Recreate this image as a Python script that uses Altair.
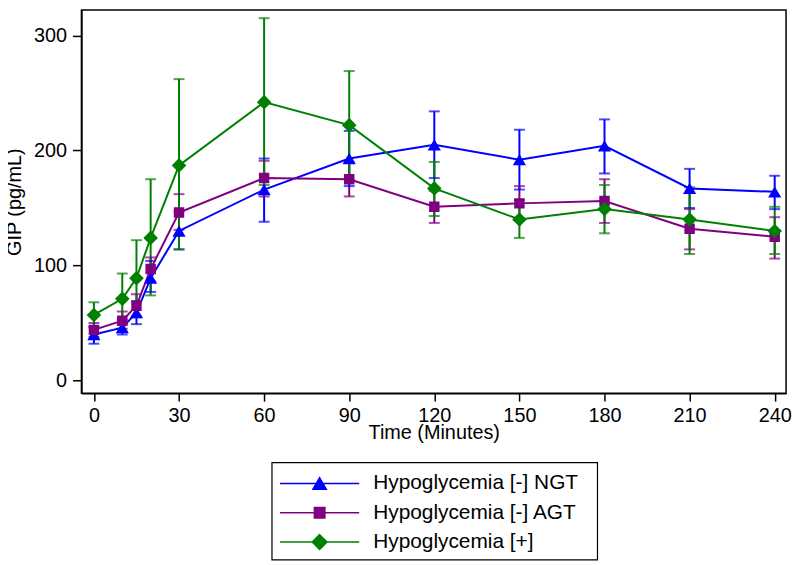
import altair as alt
import pandas as pd

series_names = ["Hypoglycemia [-] NGT", "Hypoglycemia [-] AGT", "Hypoglycemia [+]"]
series_colors = ["#0000ff", "#800080", "#008000"]
# marker glyph + a horizontal stroke (the stroke is only drawn in the legend)
marker_paths = [
    "M-5.7,0L5.7,0M0,-0.82L0.95,0.82L-0.95,0.82Z",
    "M-5.7,0L5.7,0M-0.75,-0.75L0.75,-0.75L0.75,0.75L-0.75,0.75Z",
    "M-5.7,0L5.7,0M0,-1.05L1.05,0L0,1.05L-1.05,0Z",
]

times = [0, 10, 15, 20, 30, 60, 90, 120, 150, 180, 210, 240]

ngt_mean = [40, 46, 59, 89, 130, 166, 193, 205, 192, 204, 167, 164]
ngt_lo = [32, 40, 49, 77, 114, 138, 169, 176, 166, 180, 150, 149]
ngt_hi = [47, 53, 69, 104, 147, 193, 217, 234, 218, 227, 184, 178]

agt_mean = [44, 52, 65, 97, 146, 176, 175, 151, 154, 156, 132, 125]
agt_lo = [38, 45, 55, 86, 131, 160, 160, 137, 139, 137, 114, 106]
agt_hi = [50, 60, 75, 107, 162, 191, 190, 165, 169, 175, 149, 142]

hyp_mean = [57, 71, 89, 124, 187, 242, 222, 167, 140, 149, 140, 130]
hyp_lo = [46, 49, 56, 74, 114, 170, 175, 143, 124, 128, 110, 110]
hyp_hi = [68, 93, 122, 175, 262, 315, 269, 190, 157, 170, 168, 151]

x_ticks = [0, 30, 60, 90, 120, 150, 180, 210, 240]
y_ticks = [0, 100, 200, 300]

rows = []
for name, m, lo, hi in zip(series_names,
                           [ngt_mean, agt_mean, hyp_mean],
                           [ngt_lo, agt_lo, hyp_lo],
                           [ngt_hi, agt_hi, hyp_hi]):
    for t, a, b, c in zip(times, m, lo, hi):
        rows.append({"time": t, "series": name, "mean": a, "lo": b, "hi": c})
df = pd.DataFrame(rows)
legend_df = pd.DataFrame({"series": series_names})

FONT = "Liberation Sans"

xscale = alt.Scale(domain=[-4.4, 244], nice=False, zero=False)
yscale = alt.Scale(domain=[-11, 322], nice=False, zero=False)
xaxis = alt.Axis(values=x_ticks, title="Time (Minutes)", tickSize=8, labelPadding=5,
                 titleY=29.5, titleBaseline="top")
yaxis = alt.Axis(values=y_ticks, title="GIP (pg/mL)", tickSize=9, labelPadding=6,
                 titleX=-57, titleY=193)


def X():
    return alt.X("time:Q", scale=xscale, axis=xaxis)


def Y(field):
    return alt.Y(f"{field}:Q", scale=yscale, axis=yaxis)


cscale = alt.Scale(domain=series_names, range=series_colors)
color = alt.Color("series:N", scale=cscale, legend=None)
fill = alt.Fill("series:N", scale=cscale, legend=None)
stroke = alt.Stroke("series:N", scale=cscale, legend=None)
shape = alt.Shape("series:N", scale=alt.Scale(domain=series_names, range=marker_paths), legend=None)

base = alt.Chart(df)

rules = base.mark_rule(strokeWidth=2).encode(x=X(), y=Y("lo"), y2="hi:Q", color=color)
caps_lo = base.mark_tick(orient="horizontal", size=11, thickness=2).encode(x=X(), y=Y("lo"), color=color)
caps_hi = base.mark_tick(orient="horizontal", size=11, thickness=2).encode(x=X(), y=Y("hi"), color=color)
lines = base.mark_line(strokeWidth=2).encode(x=X(), y=Y("mean"), color=color, order="time:Q")
points = base.mark_point(filled=True, size=196, opacity=1).encode(
    x=X(), y=Y("mean"), fill=fill, shape=shape, strokeWidth=alt.value(0),
)
main = alt.layer(rules, caps_lo, caps_hi, lines, points)

# legend box below the plot
ly = alt.Y("series:N", scale=alt.Scale(domain=series_names, range=[477, 536], padding=0), axis=None)
box = alt.Chart(pd.DataFrame({"k": [0]})).mark_rect(fill="white", stroke="black", strokeWidth=1.2).encode(
    x=alt.value(192), x2=alt.value(520), y=alt.value(456), y2=alt.value(554)
)
leg_sym = alt.Chart(legend_df).mark_point(filled=True, size=196, opacity=1).encode(
    x=alt.value(240), y=ly, fill=fill, stroke=stroke, shape=shape, strokeWidth=alt.value(1.6),
)
leg_txt = alt.Chart(legend_df).mark_text(align="left", baseline="middle", fontSize=21, font=FONT,
                                         color="black").encode(
    x=alt.value(294), y=ly, text="series:N"
)
legend = alt.layer(box, leg_sym, leg_txt)

chart = alt.layer(main, legend).resolve_scale(y="independent").properties(
    width=710, height=386,
    autosize=alt.AutoSizeParams(type="none"),
    padding={"left": 74, "top": 0, "right": 6, "bottom": 169},
).configure_view(
    stroke="black", strokeWidth=1.5
).configure_axis(
    grid=False, domainColor="black", domainWidth=1.5, tickColor="black", tickWidth=1.5,
    labelColor="black", titleColor="black", labelFont=FONT, titleFont=FONT,
    labelFontSize=20, titleFontSize=20, titleFontWeight="normal",
)

chart.save("out.html", embed_options={"renderer": "svg", "actions": False})
